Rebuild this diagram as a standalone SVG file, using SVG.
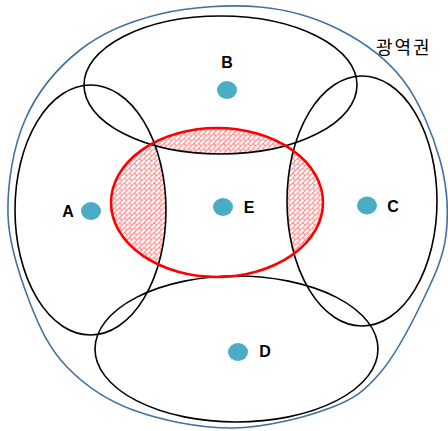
<svg xmlns="http://www.w3.org/2000/svg" width="448" height="431" viewBox="0 0 448 431">
<style>
.ring{fill:none;stroke:#000;stroke-width:1.6}
.dot{fill:#4BACC6}
.lbl{font-family:"Liberation Sans",Arial,sans-serif;font-weight:bold;font-size:16px;fill:#000}
</style>
<defs>
<pattern id="brick" width="7" height="7" patternUnits="userSpaceOnUse" patternTransform="rotate(-45)">
<path d="M0,0.5H7M0,4H7M0.5,0.5V4M4,4V7.5" stroke="#f33" stroke-width="0.6" fill="none"/>
</pattern>
<clipPath id="clipA"><ellipse cx="90.5" cy="210" rx="75.5" ry="125"/></clipPath>
<clipPath id="clipB"><ellipse cx="220.5" cy="85" rx="136.5" ry="69"/></clipPath>
<clipPath id="clipC"><ellipse cx="362" cy="201" rx="75" ry="125"/></clipPath>
</defs>
<path id="region" d="M260,7 C290,9.7 316.2,17.8 340,30 C363.8,42.2 386.3,58.3 403,80 C419.7,101.7 432.8,134.2 440,160 C447.2,185.8 448.8,211.7 446,235 C443.2,258.3 434,277 423,300 C412,323 395.5,355 380,373 C364.5,391 354.5,398.8 330,408 C305.5,417.2 265.8,427.7 233,428 C200.2,428.3 160.7,420.2 133,410 C105.3,399.8 84.2,384.8 67,367 C49.8,349.2 39.8,328.3 30,303 C20.2,277.7 8.8,245.5 8,215 C7.2,184.5 13,147.5 25,120 C37,92.5 57.5,67.7 80,50 C102.5,32.3 130,21.2 160,14 C190,6.8 230,4.3 260,7 Z" fill="none" stroke="#41719C" stroke-width="1.6"/>
<text x="376" y="54" font-family="'Noto Sans CJK KR','Noto Sans',sans-serif" font-size="18" letter-spacing="2" fill="#000">광역권</text>
<g id="hatch">
<ellipse cx="217" cy="202.5" rx="106" ry="74.5" fill="url(#brick)" clip-path="url(#clipA)"/>
<ellipse cx="217" cy="202.5" rx="106" ry="74.5" fill="url(#brick)" clip-path="url(#clipB)"/>
<ellipse cx="217" cy="202.5" rx="106" ry="74.5" fill="url(#brick)" clip-path="url(#clipC)"/>
</g>
<g id="nodeA"><ellipse class="ring" cx="90.5" cy="210" rx="75.5" ry="125"/><ellipse class="dot" cx="91" cy="211" rx="10" ry="9"/><text class="lbl" x="68" y="217" text-anchor="middle">A</text></g>
<g id="nodeB"><ellipse class="ring" cx="220.5" cy="85" rx="136.5" ry="69"/><ellipse class="dot" cx="227" cy="90" rx="10" ry="9"/><text class="lbl" x="227" y="68" text-anchor="middle">B</text></g>
<g id="nodeC"><ellipse class="ring" cx="362" cy="201" rx="75" ry="125"/><ellipse class="dot" cx="367" cy="205.5" rx="10" ry="9"/><text class="lbl" x="393" y="212" text-anchor="middle">C</text></g>
<g id="nodeD"><ellipse class="ring" cx="236.5" cy="349" rx="141.5" ry="73"/><ellipse class="dot" cx="238" cy="352" rx="10" ry="9"/><text class="lbl" x="265" y="357" text-anchor="middle">D</text></g>
<g id="nodeE"><ellipse cx="217" cy="202.5" rx="106" ry="74.5" fill="none" stroke="#f00" stroke-width="2.6"/><ellipse class="dot" cx="223" cy="207" rx="10" ry="9"/><text class="lbl" x="249" y="213" text-anchor="middle">E</text></g>
<g id="connectors"/>
</svg>
